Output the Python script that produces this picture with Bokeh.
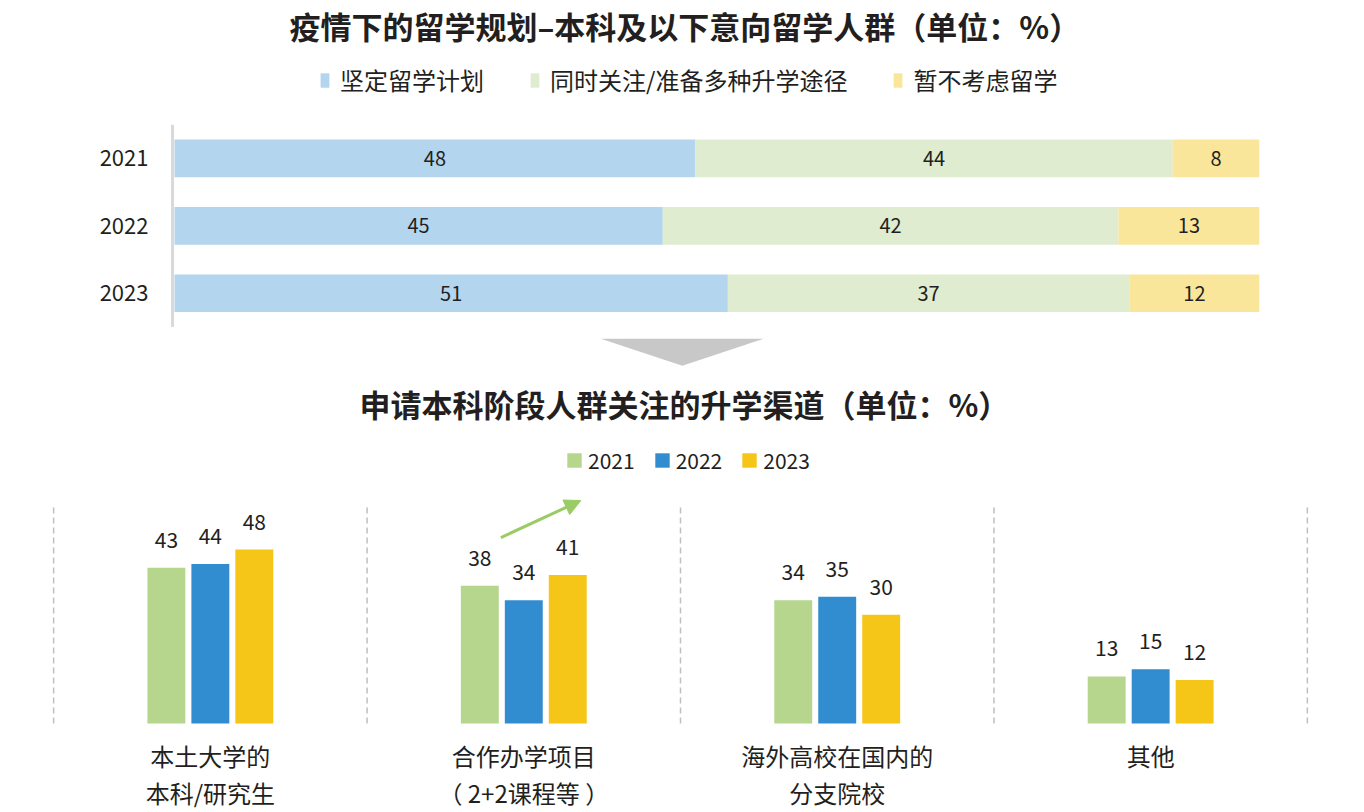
from bokeh.plotting import figure
from bokeh.models import (Range1d, FactorRange, Legend, LegendItem, ColumnDataSource,
                          FixedTicker, Arrow, NormalHead)
from bokeh.embed import file_html
from bokeh.resources import INLINE
from bokeh.core.properties import value
from bokeh.transform import dodge

# ---------------- data ----------------
years = ["2021", "2022", "2023"]
plan_labels = ["坚定留学计划", "同时关注/准备多种升学途径", "暂不考虑留学"]
firm = [48, 45, 51]
multi = [44, 42, 37]
not_abroad = [8, 13, 12]

channels = ["本土大学的本科/研究生", "合作办学项目（2+2课程等）", "海外高校在国内的分支院校", "其他"]
channel_labels = ["本土大学的\n本科/研究生", "合作办学项目\n（ 2+2课程等 ）", "海外高校在国内的\n分支院校", "其他"]
series_years = ["2021", "2022", "2023"]
v2021 = [43, 38, 34, 13]
v2022 = [44, 34, 35, 15]
v2023 = [48, 41, 30, 12]

title_top = "疫情下的留学规划–本科及以下意向留学人群（单位：%）"
title_bottom = "申请本科阶段人群关注的升学渠道（单位：%）"

# ---------------- style ----------------
FONT = "Noto Sans CJK SC"
TXT = "#231F20"
TOP_COLORS = ["#B3D5EE", "#DFECD0", "#FAE69B"]
BOT_COLORS = ["#B5D68C", "#318DCF", "#F5C518"]
W = 1348

# ---------------- top chart ----------------
ypos = [len(years) - 1 - i for i in range(len(years))]
p1 = figure(width=W, height=372, x_range=Range1d(-0.46, 100), y_range=Range1d(-1.176, 3.647),
            output_backend="svg", toolbar_location=None, x_axis_location=None,
            min_border_left=169, min_border_right=89, min_border_top=44, min_border_bottom=0)
p1.outline_line_color = None
p1.grid.visible = False

src1 = ColumnDataSource(dict(y=ypos, firm=firm, multi=multi, no=not_abroad))
rs = p1.hbar_stack(["firm", "multi", "no"], y="y", height=0.56, color=TOP_COLORS,
                   line_color=None, source=src1)

lx, ly, lt = [], [], []
for i, y in enumerate(ypos):
    cum = 0
    for s in (firm, multi, not_abroad):
        v = s[i]
        lx.append(cum + v / 2)
        ly.append(y)
        lt.append(str(v))
        cum += v
p1.text(x=lx, y=ly, text=lt, text_align="center", text_baseline="middle",
        text_font=value(FONT), text_font_size="20px", text_color=TXT)

# vertical axis line
p1.segment(x0=-0.18, y0=max(ypos) + 0.5, x1=-0.18, y1=min(ypos) - 0.5,
           line_color="#D9D9D9", line_width=3)

# grey down arrow between the charts
p1.patch(x=[39.3, 54.3, 46.8], y=[-0.676, -0.676, -1.074], fill_color="#C8C8C8",
         line_color=None)

ax = p1.yaxis[0]
ax.ticker = FixedTicker(ticks=ypos)
ax.major_label_overrides = {y: yr for y, yr in zip(ypos, years)}
ax.axis_line_color = None
ax.major_tick_line_color = None
ax.minor_tick_line_color = None
ax.major_tick_out = 0
ax.major_tick_in = 0
ax.major_label_standoff = 21
ax.major_label_text_font = FONT
ax.major_label_text_font_size = "22px"
ax.major_label_text_color = TXT

p1.title.text = title_top
p1.title.align = "left"
p1.title.offset = 120
p1.title.standoff = 0
p1.title.text_font = FONT
p1.title.text_font_size = "31px"
p1.title.text_font_style = "bold"
p1.title.text_color = TXT

leg1 = Legend(items=[LegendItem(label=plan_labels[i], renderers=[rs[i]]) for i in range(3)],
              orientation="horizontal", location=(150, 275), glyph_width=11, glyph_height=18,
              label_standoff=10, spacing=45, padding=0, margin=0, border_line_color=None,
              background_fill_alpha=0, label_text_font=FONT, label_text_font_size="24px",
              label_text_color=TXT, label_height=24)
p1.add_layout(leg1)

# ---------------- bottom chart ----------------
p2 = figure(width=W, height=440,
            x_range=FactorRange(factors=channels, range_padding=0.01, range_padding_units="absolute"),
            y_range=Range1d(-24.55, 80.83), output_backend="svg", toolbar_location=None,
            x_axis_location=None, y_axis_location=None, min_border_left=50, min_border_right=38,
            min_border_top=58, min_border_bottom=0)
p2.outline_line_color = None
p2.grid.visible = False

src2 = ColumnDataSource(dict(cat=channels, lab=channel_labels, zero=[0] * len(channels),
                             v2021=v2021, v2022=v2022, v2023=v2023,
                             t2021=[str(v) for v in v2021], t2022=[str(v) for v in v2022],
                             t2023=[str(v) for v in v2023]))
offs = [-0.1403, 0.0, 0.1403]
bars = []
for k, yr in enumerate(series_years):
    r = p2.vbar(x=dodge("cat", offs[k], range=p2.x_range), top="v" + yr, width=0.121,
                source=src2, fill_color=BOT_COLORS[k], line_color=None)
    bars.append(r)
    p2.text(x=dodge("cat", offs[k], range=p2.x_range), y="v" + yr, text="t" + yr,
            source=src2, text_align="center", text_baseline="middle", y_offset=-28,
            text_font=value(FONT), text_font_size="21px", text_color=TXT)

# category labels under the groups
p2.text(x="cat", y="zero", text="lab", source=src2, text_align="center", text_baseline="top",
        y_offset=14, text_line_height=1.07, text_font=value(FONT), text_font_size="24px",
        text_color=TXT)

# dashed separators between categories
sep = list(range(len(channels) + 1))
p2.segment(x0=sep, y0=[0] * len(sep), x1=sep, y1=[60] * len(sep),
           line_color="#BFBFBF", line_width=1.5, line_dash="6 4")

# green trend arrow on the second group
p2.add_layout(Arrow(end=NormalHead(size=16, fill_color="#9BCB64", line_color="#9BCB64"),
                    x_start=1.427, y_start=51.3, x_end=1.682, y_end=61.5,
                    line_color="#9BCB64", line_width=3))

p2.title.text = title_bottom
p2.title.align = "left"
p2.title.offset = 309
p2.title.text_font = FONT
p2.title.text_font_size = "31px"
p2.title.text_font_style = "bold"
p2.title.text_color = TXT

leg2 = Legend(items=[LegendItem(label=series_years[k], renderers=[bars[k]]) for k in range(3)],
              orientation="horizontal", location=(515, 337), glyph_width=18, glyph_height=18,
              label_standoff=5, spacing=18, padding=0, margin=0, border_line_color=None,
              background_fill_alpha=0, label_text_font=FONT, label_text_font_size="21px",
              label_text_color=TXT, label_height=22)
p2.add_layout(leg2)

open("out.html", "w").write(file_html([p1, p2], INLINE))
